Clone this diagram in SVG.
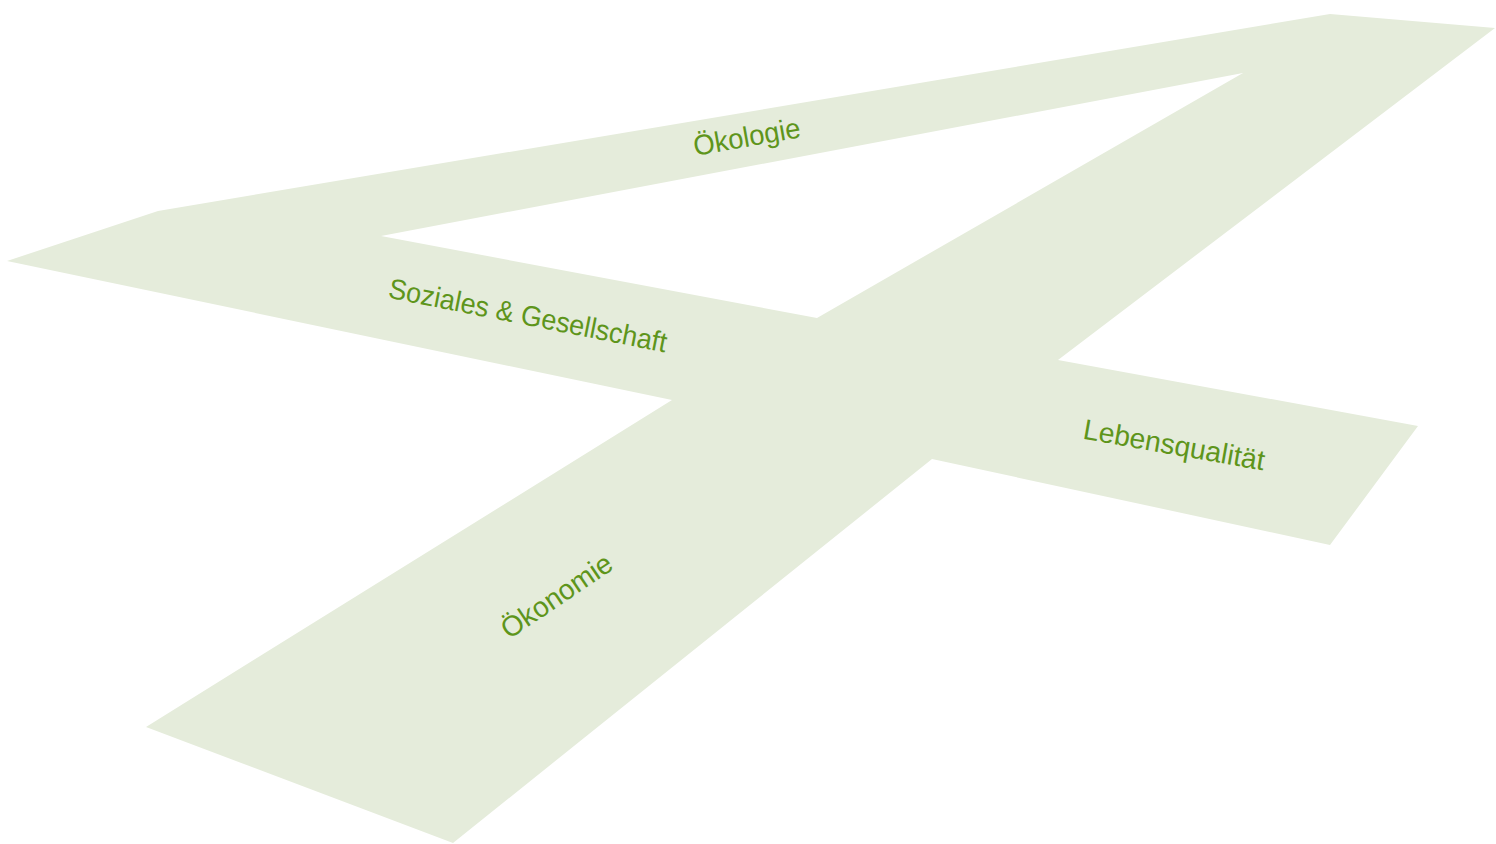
<svg xmlns="http://www.w3.org/2000/svg" width="1496" height="844" viewBox="0 0 1496 844">
  <style>
    .band { fill: #e5ecdb; stroke: none; }
    .lbl { font-family: "Liberation Sans", Arial, sans-serif; font-size: 28.5px; fill: #5e951b; text-anchor: middle; }
  </style>
  <rect width="1496" height="844" fill="#ffffff"/>
  <!-- large "4" shape in perspective, with the triangular counter cut out -->
  <g id="shape">
    <path class="band" fill-rule="evenodd" d="M158,211 L1330,14 L1495,28 L1058,360 L1418,426 L1330,545 L932,459 L453,843 L146,727 L672,400 L7,261 Z M381,236 L1243,73 L817,318 Z"/>
  </g>
  <g id="label-oekologie">
    <text class="lbl" transform="translate(748.5,146.5) rotate(-10)" textLength="108" lengthAdjust="spacingAndGlyphs">Ökologie</text>
  </g>
  <g id="label-soziales">
    <text class="lbl" transform="translate(526,325) rotate(11.2)" textLength="283" lengthAdjust="spacingAndGlyphs">Soziales &amp; Gesellschaft</text>
  </g>
  <g id="label-lebensqualitaet">
    <text class="lbl" transform="translate(1172.5,454.5) rotate(10)" textLength="184" lengthAdjust="spacingAndGlyphs">Lebensqualität</text>
  </g>
  <g id="label-oekonomie">
    <text class="lbl" transform="translate(562,604) rotate(-34)" textLength="128" lengthAdjust="spacingAndGlyphs">Ökonomie</text>
  </g>
</svg>
